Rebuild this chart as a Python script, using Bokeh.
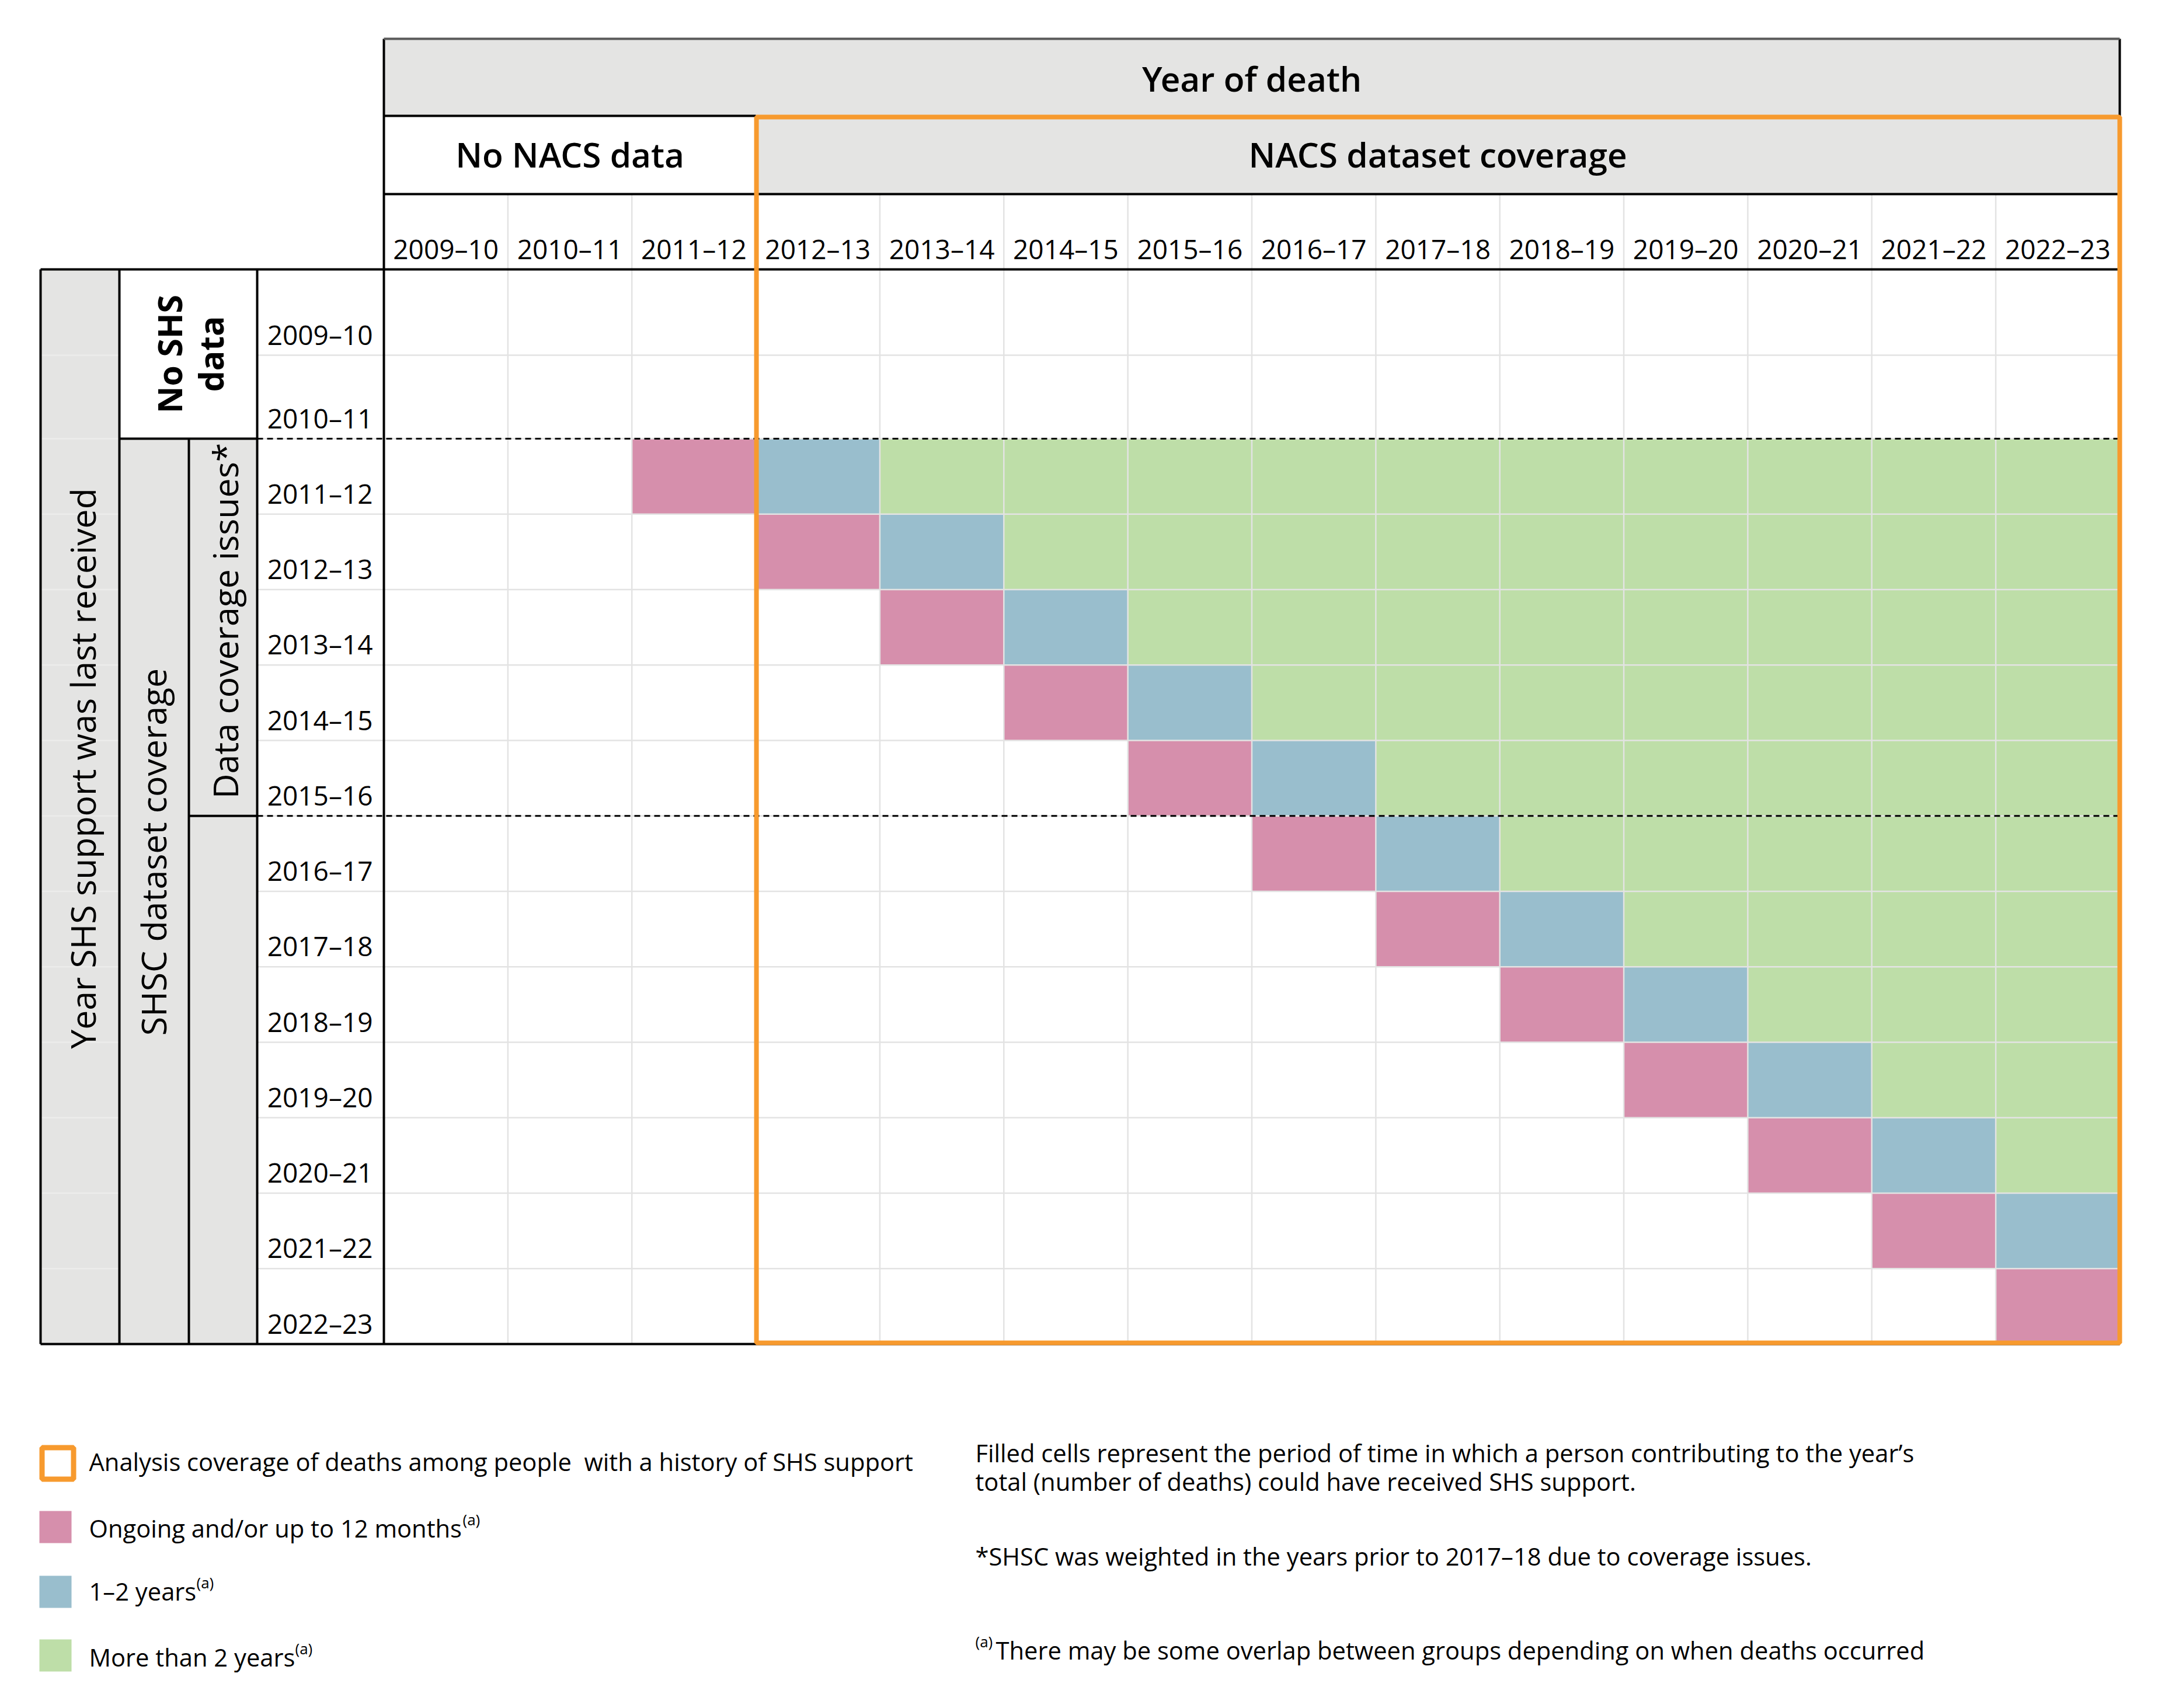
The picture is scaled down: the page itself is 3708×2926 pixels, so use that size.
from bokeh.plotting import figure
from bokeh.models import Range1d, ColumnDataSource
from bokeh.core.properties import value
from bokeh.embed import file_html
from bokeh.resources import INLINE
import math

# ---------------------------------------------------------------- data
death_years = ["2009–10", "2010–11", "2011–12", "2012–13", "2013–14", "2014–15",
               "2015–16", "2016–17", "2017–18", "2018–19", "2019–20", "2020–21",
               "2021–22", "2022–23"]
support_years = ["2009–10", "2010–11", "2011–12", "2012–13", "2013–14", "2014–15",
                 "2015–16", "2016–17", "2017–18", "2018–19", "2019–20", "2020–21",
                 "2021–22", "2022–23"]

# One string per year of last SHS support, one character per year of death:
# P = ongoing and/or up to 12 months, B = 1–2 years, G = more than 2 years, . = empty
coverage = [
    "..............",
    "..............",
    "..PBGGGGGGGGGG",
    "...PBGGGGGGGGG",
    "....PBGGGGGGGG",
    ".....PBGGGGGGG",
    "......PBGGGGGG",
    ".......PBGGGGG",
    "........PBGGGG",
    ".........PBGGG",
    "..........PBGG",
    "...........PBG",
    "............PB",
    ".............P",
]

legend_labels = ["Ongoing and/or up to 12 months", "1–2 years", "More than 2 years"]
legend_codes = ["P", "B", "G"]
box_label = "Analysis coverage of deaths among people\u00a0 with a history of SHS support"
notes = [
    "Filled cells represent the period of time in which a person contributing to the year’s",
    "total (number of deaths) could have received SHS support.",
    "*SHSC was weighted in the years prior to 2017–18 due to coverage issues.",
    "There may be some overlap between groups depending on when deaths occurred",
]

# ---------------------------------------------------------------- style
W, H = 3708, 2926
FONT = value("Open Sans")
HEAD_FONT = value("Open Sans SemiBold")
GREY = "#e4e4e3"
GRID = "#e3e3e3"
ORANGE = "#f79a2e"
FILL = {"P": "#d68fac", "B": "#99becd", "G": "#bedea8"}
TY = 19      # baseline correction for horizontal text
TX = 22      # baseline correction for rotated text

# table geometry (page pixels, y grows downwards)
GX0, GX1 = 657, 3630
NCOL = len(death_years)
CW = (GX1 - GX0) / NCOL
HY = [66, 198, 332, 461]                 # header band edges
ROW_EDGES = [461, 608, 751]
STEP = (2302 - 751) / 12
for k in range(1, 13):
    ROW_EDGES.append(751 + k * STEP)
LX = [69, 204, 323, 440, 657]            # left stub column edges
NACS_X = GX0 + 3 * CW                    # first year with NACS data
DASH_Y = [ROW_EDGES[2], ROW_EDGES[7]]


def col_left(j):
    return GX0 + j * CW


p = figure(width=W, height=H, x_range=Range1d(0, W), y_range=Range1d(H, 0),
           output_backend="svg", toolbar_location=None, min_border=0,
           x_axis_location=None, y_axis_location=None)
p.grid.visible = False
p.outline_line_color = None
p.background_fill_color = "white"
p.border_fill_color = "white"

# ---------------------------------------------------------------- background boxes
boxes = dict(left=[], right=[], top=[], bottom=[], color=[])


def box(l, r, t, b, c):
    boxes["left"].append(l); boxes["right"].append(r)
    boxes["top"].append(t); boxes["bottom"].append(b); boxes["color"].append(c)


box(GX0, GX1, HY[0], HY[1], GREY)            # Year of death
box(GX0, NACS_X, HY[1], HY[2], "white")      # No NACS data
box(NACS_X, GX1, HY[1], HY[2], GREY)         # NACS dataset coverage
box(LX[0], LX[1], HY[3], ROW_EDGES[-1], GREY)
box(LX[1], LX[3], HY[3], DASH_Y[0], "white")
box(LX[1], LX[2], DASH_Y[0], ROW_EDGES[-1], GREY)
box(LX[2], LX[3], DASH_Y[0], ROW_EDGES[-1], GREY)
p.quad(source=ColumnDataSource(boxes), left="left", right="right", top="top",
       bottom="bottom", fill_color="color", line_color=None)

# ---------------------------------------------------------------- coverage cells
cells = dict(left=[], right=[], top=[], bottom=[], color=[], death=[], support=[])
for i, row in enumerate(coverage):
    for j, code in enumerate(row):
        if code in FILL:
            cells["left"].append(col_left(j))
            cells["right"].append(col_left(j + 1))
            cells["top"].append(ROW_EDGES[i])
            cells["bottom"].append(ROW_EDGES[i + 1])
            cells["color"].append(FILL[code])
            cells["death"].append(death_years[j])
            cells["support"].append(support_years[i])
p.quad(source=ColumnDataSource(cells), left="left", right="right", top="top",
       bottom="bottom", fill_color="color", line_color=None)

# ---------------------------------------------------------------- light grid
vx = [col_left(j) for j in range(1, NCOL)]
p.segment(x0=vx, x1=vx, y0=[HY[2]] * len(vx), y1=[ROW_EDGES[-1]] * len(vx),
          line_color=GRID, line_width=2.5)
hy = ROW_EDGES[1:-1]
p.segment(x0=[LX[3]] * len(hy), x1=[GX1] * len(hy), y0=hy, y1=hy,
          line_color=GRID, line_width=2.5)
p.segment(x0=[LX[0]] * len(hy), x1=[LX[1]] * len(hy), y0=hy, y1=hy,
          line_color="#ececeb", line_width=2.5)

# ---------------------------------------------------------------- dashed separators
p.segment(x0=[LX[3]] * 2, x1=[GX1] * 2, y0=DASH_Y, y1=DASH_Y,
          line_color="black", line_width=3, line_dash="10 7")

# ---------------------------------------------------------------- black rules
bx0 = [GX0, GX0, LX[0], LX[1], LX[2], LX[0], GX0, GX1, LX[0], LX[1], LX[2], LX[3]]
by0 = [HY[1], HY[2], HY[3], DASH_Y[0], DASH_Y[1], ROW_EDGES[-1], HY[0], HY[0],
       HY[3], HY[3], DASH_Y[0], HY[3]]
bx1 = [NACS_X, GX1, GX1, LX[3], LX[3], GX1, GX0, GX1, LX[0], LX[1], LX[2], LX[3]]
by1 = [HY[1], HY[2], HY[3], DASH_Y[0], DASH_Y[1], ROW_EDGES[-1], ROW_EDGES[-1], HY[1],
       ROW_EDGES[-1], ROW_EDGES[-1], ROW_EDGES[-1], ROW_EDGES[-1]]
p.segment(x0=bx0, y0=by0, x1=bx1, y1=by1, line_color="black", line_width=4)
p.segment(x0=[GX0], y0=[HY[0]], x1=[GX1], y1=[HY[0]], line_color="#5a5a5a", line_width=4)

# ---------------------------------------------------------------- analysis coverage frame
p.quad(left=[NACS_X + 1], right=[GX1], top=[HY[1] + 2], bottom=[ROW_EDGES[-1] - 2],
       fill_color=None, line_color=ORANGE, line_width=8)

# ---------------------------------------------------------------- header texts
p.text(x=[(GX0 + GX1) / 2, (GX0 + NACS_X) / 2, (NACS_X + GX1) / 2],
       y=[152 - TY, 282 - TY, 282 - TY],
       text=["Year of death", "No NACS data", "NACS dataset coverage"],
       text_font=HEAD_FONT, text_font_size=value("58.5px"),
       text_align="center", text_baseline="alphabetic", text_color="black")

p.text(x=[col_left(j) + CW / 2 for j in range(NCOL)], y=[444 - TY] * NCOL, text=death_years,
       text_font=FONT, text_font_size=value("46px"), text_align="center",
       text_baseline="alphabetic", text_color="black")

p.text(x=[638] * len(support_years),
       y=[ROW_EDGES[i + 1] - 17 - TY for i in range(len(support_years))],
       text=support_years, text_font=FONT, text_font_size=value("46px"),
       text_align="right", text_baseline="alphabetic", text_color="black")

# ---------------------------------------------------------------- rotated stub labels
p.text(x=[162 - TX, 283 - TX, 406 - TX], y=[1316, 1459, 1063],
       text=["Year SHS support was last received", "SHSC dataset coverage",
             "Data coverage issues*"],
       angle=math.pi / 2, text_font=FONT, text_font_size=value("59px"),
       text_align="center", text_baseline="alphabetic", text_color="black")
p.text(x=[311 - TX, 382 - TX], y=[606, 606], text=["No SHS", "data"], angle=math.pi / 2,
       text_font=FONT, text_font_style="bold", text_font_size=value("57px"),
       text_align="center", text_baseline="alphabetic", text_color="black")

# ---------------------------------------------------------------- legend
p.quad(left=[71.5], right=[125.5], top=[2479.5], bottom=[2533.5],
       fill_color="white", line_color=ORANGE, line_width=9)
leg_top = [2588, 2699, 2808]
p.quad(left=[67] * 3, right=[122] * 3, top=leg_top, bottom=[t + 55 for t in leg_top],
       fill_color=[FILL[c] for c in legend_codes], line_color=None)
leg_base = [2522 - TY, 2636 - TY, 2744 - TY, 2857 - TY]
p.text(x=[152] * 4, y=leg_base, text=[box_label] + legend_labels,
       text_font=FONT, text_font_size=value("41.7px"), text_align="left",
       text_baseline="alphabetic", text_color="black")
sup_x = [792, 336, 505, 1670]
sup_y = [leg_base[1] - 15, leg_base[2] - 15, leg_base[3] - 15, 2845 - TY - 15]
p.text(x=sup_x, y=sup_y, text=["(a)"] * 4, text_font=FONT,
       text_font_size=value("26px"), text_align="left", text_baseline="alphabetic",
       text_color="black")

p.text(x=[1670, 1670, 1670, 1705], y=[2507 - TY, 2556 - TY, 2684 - TY, 2845 - TY],
       text=notes, text_font=FONT, text_font_size=value("41.7px"), text_align="left",
       text_baseline="alphabetic", text_color="black")

open("out.html", "w").write(file_html(p, INLINE))
